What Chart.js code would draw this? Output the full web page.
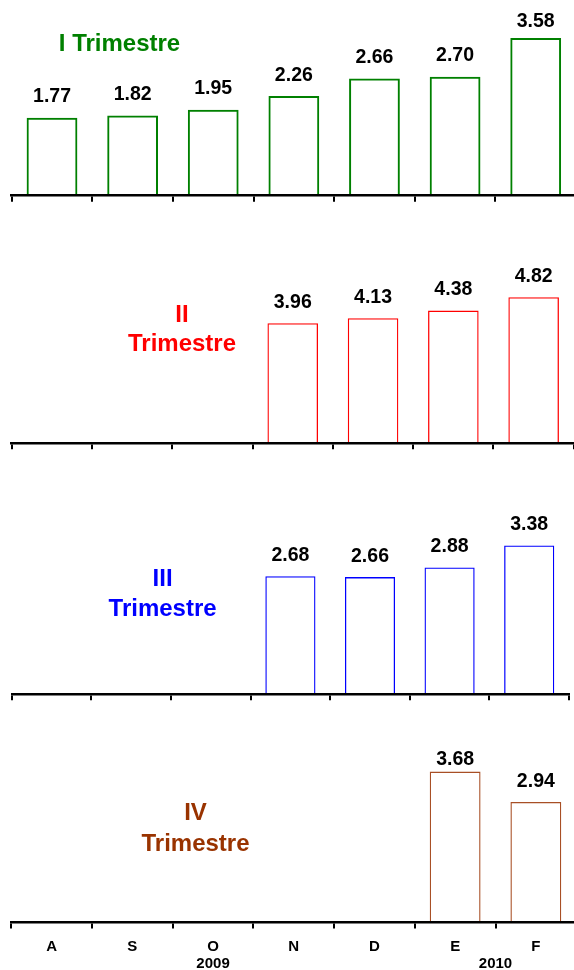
<!DOCTYPE html>
<html>
<head>
<meta charset="utf-8">
<title>Trimestres</title>
<script src="https://cdn.jsdelivr.net/npm/chart.js@4.4.0/dist/chart.umd.min.js"></script>
<style>
  html, body { margin: 0; padding: 0; background: #fff; width: 574px; height: 970px; overflow: hidden; }
  canvas { position: absolute; left: 0; }
</style>
</head>
<body>
<canvas id="chartI"></canvas>
<canvas id="chartII"></canvas>
<canvas id="chartIII"></canvas>
<canvas id="chartIV"></canvas>
<script>
// ------------------------------ DATA ------------------------------
var months = ["A", "S", "O", "N", "D", "E", "F"];
var trimI = [1.77, 1.82, 1.95, 2.26, 2.66, 2.70, 3.58];
var trimII = [null, null, null, 3.96, 4.13, 4.38, 4.82];
var trimIII = [null, null, null, 2.68, 2.66, 2.88, 3.38];
var trimIV = [null, null, null, null, null, 3.68, 2.94];
var years = ["2009", "2010"];
var yearSpans = [["O", "O"], ["E", "F"]];

var FONT = '"Liberation Sans", Arial, Helvetica, sans-serif';

// ------------------------------ PLUGINS ------------------------------

// number over every bar
var valueLabels = {
  id: "valueLabels",
  afterDatasetsDraw: function (chart, args, opts) {
    var ctx = chart.ctx;
    var data = chart.data.datasets[0].data;
    var bars = chart.getDatasetMeta(0).data;
    ctx.save();
    ctx.font = "bold 19.5px " + FONT;
    ctx.fillStyle = "#000";
    ctx.textAlign = "center";
    ctx.textBaseline = "middle";
    bars.forEach(function (bar, i) {
      if (data[i] == null) return;
      var y = Math.max(bar.y - 20.7, chart.chartArea.top + (opts.minTop || 0));
      ctx.fillText(data[i].toFixed(2), bar.x, y);
    });
    ctx.restore();
  }
};

// "Trimestre" caption inside each panel
var panelTitle = {
  id: "panelTitle",
  afterDraw: function (chart, args, opts) {
    if (!opts.lines) return;
    var ctx = chart.ctx;
    ctx.save();
    ctx.font = "bold 24px " + FONT;
    ctx.fillStyle = opts.color;
    ctx.textAlign = "center";
    ctx.textBaseline = "middle";
    opts.lines.forEach(function (t, i) {
      ctx.fillText(t, opts.x, chart.chartArea.top + opts.y[i]);
    });
    ctx.restore();
  }
};

// year under the month labels (bottom panel only)
var yearLabels = {
  id: "yearLabels",
  afterDraw: function (chart, args, opts) {
    if (!opts.show) return;
    var ctx = chart.ctx;
    var x = chart.scales.x;
    ctx.save();
    ctx.font = "bold 15px " + FONT;
    ctx.fillStyle = "#000";
    ctx.textAlign = "center";
    ctx.textBaseline = "middle";
    years.forEach(function (yr, i) {
      var a = x.getPixelForValue(months.indexOf(yearSpans[i][0]));
      var b = x.getPixelForValue(months.indexOf(yearSpans[i][1]));
      if (a != b) { a = (a + b) / 2; b = a; }
      ctx.fillText(yr, a, chart.chartArea.bottom + 41);
    });
    ctx.restore();
  }
};

// ------------------------------ PANELS ------------------------------
function panel(id, values, o) {
  var canvas = document.getElementById(id);
  var axisH = o.months ? 48 : 8;
  var h = Math.ceil(o.areaH + axisH);
  canvas.width = o.width;
  canvas.height = h;
  canvas.style.top = o.top + "px";

  return new Chart(canvas, {
    type: "bar",
    data: {
      labels: months,
      datasets: [{
        data: values,
        backgroundColor: "rgba(255,255,255,0)",
        borderColor: o.color,
        borderWidth: o.lineW,
        categoryPercentage: 1,
        barPercentage: 0.63
      }]
    },
    options: {
      responsive: false,
      animation: false,
      devicePixelRatio: 1,
      layout: {
        padding: { left: o.left, right: o.width - o.right, top: 0, bottom: h - o.areaH - axisH }
      },
      plugins: {
        legend: { display: false },
        tooltip: { enabled: false },
        valueLabels: { minTop: o.minTop },
        panelTitle: { lines: o.title, color: o.titleColor, x: o.titleX, y: o.titleY },
        yearLabels: { show: !!o.months }
      },
      scales: {
        x: {
          grid: { display: true, drawOnChartArea: false, drawTicks: true, tickLength: 6, color: "#000", lineWidth: 2, offset: true },
          border: { display: true, color: "#000", width: 2.5, z: 1 },
          ticks: { display: !!o.months, color: "#000", padding: 9, font: { family: FONT, size: 15, weight: "bold" } },
          afterFit: function (s) { s.height = axisH; }
        },
        y: { display: false, min: 0, max: o.yMax }
      }
    },
    plugins: [valueLabels, panelTitle, yearLabels]
  });
}

panel("chartI", trimI, {
  top: 0, areaH: 195.7, width: 577, left: 11.7, right: 576,
  yMax: 4.44, color: "#008000", lineW: 2, minTop: 21.7,
  title: ["I Trimestre"], titleColor: "#008000", titleX: 119.5, titleY: [44.3]
});

panel("chartII", trimII, {
  top: 250, areaH: 193.3, width: 574, left: 11.7, right: 573.8,
  yMax: 6.38, color: "#FF0000", lineW: 1.3,
  title: ["II", "Trimestre"], titleColor: "#FF0000", titleX: 182, titleY: [65, 94.3]
});

panel("chartIII", trimIII, {
  top: 500, areaH: 194.3, width: 574, left: 11.8, right: 569,
  yMax: 4.41, color: "#0000FF", lineW: 1.3,
  title: ["III", "Trimestre"], titleColor: "#0000FF", titleX: 162.6, titleY: [79.3, 109.3]
});

panel("chartIV", trimIV, {
  top: 730, areaH: 192.5, width: 577, left: 11.3, right: 576.2,
  yMax: 4.695, color: "#A84F25", lineW: 1.3, minTop: 30, months: true,
  title: ["IV", "Trimestre"], titleColor: "#993300", titleX: 195.5, titleY: [83.3, 114.3]
});
</script>
</body>
</html>
